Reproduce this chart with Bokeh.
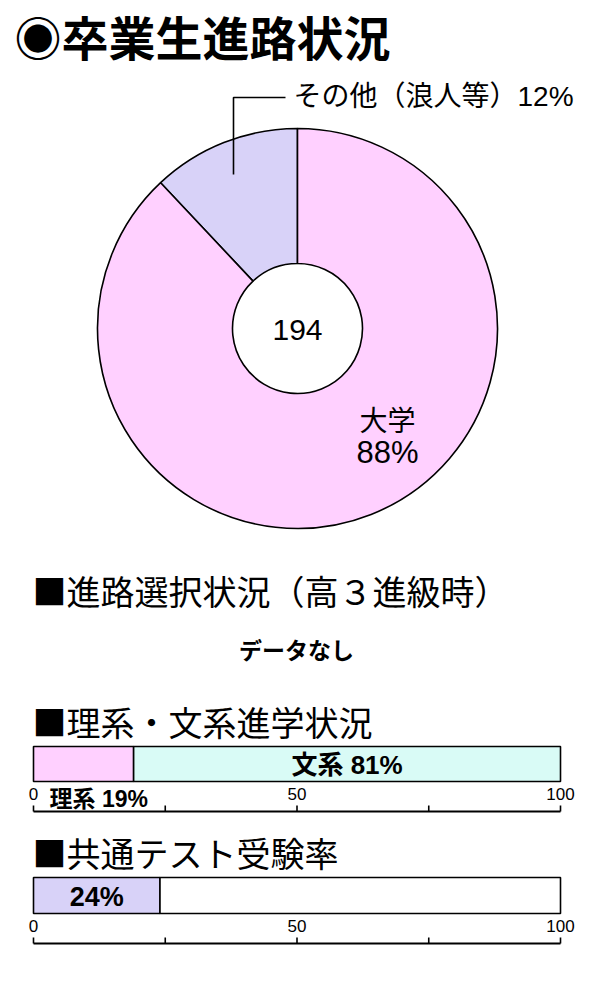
import numpy as np
from bokeh.plotting import figure
from bokeh.models import Range1d
from bokeh.core.properties import value
from bokeh.embed import file_html
from bokeh.resources import INLINE

# ---------------- data ----------------
title = "◉卒業生進路状況"
total = 194
pie_labels = ["その他（浪人等）", "大学"]
pie_shares = [12, 88]
pie_colors = ["#D8D2F8", "#FFD0FF"]

section2_title = "■進路選択状況（高３進級時）"
section2_note = "データなし"

section3_title = "■理系・文系進学状況"
stream_labels = ["理系", "文系"]
stream_shares = [19, 81]
stream_colors = ["#FFD0FF", "#D9FBF6"]

section4_title = "■共通テスト受験率"
test_shares = [24, 76]
test_colors = ["#D8D2F8", "#FFFFFF"]

ticks = [0, 25, 50, 75, 100]
tick_labels = ["0", "", "50", "", "100"]

# ---------------- figure ----------------
JP = "'Noto Sans CJK JP', sans-serif"
NUM = "'Liberation Sans', 'Noto Sans CJK JP', sans-serif"

W, H = 584, 984
p = figure(width=W, height=H, x_range=Range1d(0, W), y_range=Range1d(1000 - H, 1000),
           output_backend="svg", toolbar_location=None, min_border=0,
           x_axis_location=None, y_axis_location=None)
p.outline_line_color = None
p.grid.visible = False
p.background_fill_color = "white"
p.border_fill_color = "white"

# percentage scale for the bar sections: 0 -> x 33, 100 -> x 560
px_per = (560 - 33) / 100.0
p.extra_x_ranges = {"pct": Range1d(-33 / px_per, 100 + (W - 560) / px_per)}


def Y(yi):
    return 1000 - yi


def txt(x, y, s, size, bold=False, align="left", font=JP, rng="default", xoff=0):
    p.text(x=[x], y=[Y(y)], text=[s], text_font=value(font), text_font_size=f"{size}px",
           text_font_style="bold" if bold else "normal", text_align=align,
           text_baseline="middle", text_color="black", x_range_name=rng, x_offset=xoff)


# title
txt(14, 35, title, 47, bold=True)

# ---------------- donut ----------------
cx, cy = 297, 328
shares = np.array(pie_shares, dtype=float)
frac = shares / shares.sum()
ends = np.pi / 2 + np.cumsum(frac) * 2 * np.pi
starts = ends - frac * 2 * np.pi
p.annular_wedge(x=[cx] * len(shares), y=[Y(cy)] * len(shares), inner_radius=65, outer_radius=200,
                start_angle=starts, end_angle=ends, direction="anticlock",
                fill_color=pie_colors, line_color="black", line_width=1.6)

txt(cx, 329, str(total), 30, align="center", font=NUM)
txt(387, 418, pie_labels[1], 28, align="center")
txt(387, 452, f"{pie_shares[1]}%", 31, align="center", font=NUM)

# leader line for the small slice
p.line(x=[233, 233, 285], y=[Y(174), Y(97), Y(97)], line_color="black", line_width=1.6)
txt(293, 96, f"{pie_labels[0]}{pie_shares[0]}%", 28, font=NUM)

# ---------------- section 2 ----------------
txt(32, 590, section2_title, 34)
txt(296, 648, section2_note, 23, bold=True, align="center")

# ---------------- section 3 ----------------
txt(32, 721, section3_title, 34)


def stacked_bar(vals, colors, top, bottom):
    v = np.array(vals, dtype=float)
    right = np.cumsum(v)
    left = right - v
    p.quad(left=left, right=right, top=[Y(top)] * len(v), bottom=[Y(bottom)] * len(v),
           fill_color=colors, line_color="black", line_width=1.6, x_range_name="pct")
    return left, right


def pct_axis(y_line):
    n = len(ticks)
    p.segment(x0=[ticks[0]], y0=[Y(y_line)], x1=[ticks[-1]], y1=[Y(y_line)],
              line_color="black", line_width=2, x_range_name="pct")
    p.segment(x0=ticks, y0=[Y(y_line)] * n, x1=ticks, y1=[Y(y_line - 6)] * n,
              line_color="black", line_width=1.6, x_range_name="pct")
    p.text(x=ticks, y=[Y(y_line - 18)] * n, text=tick_labels, text_font=value(NUM),
           text_font_size="17px", text_align="center", text_baseline="middle",
           text_color="black", x_range_name="pct")


l3, r3 = stacked_bar(stream_shares, stream_colors, 746, 781)
txt((l3[1] + r3[1]) / 2, 764, f"{stream_labels[1]} {stream_shares[1]}%", 26, bold=True,
    align="center", rng="pct", font=NUM)
txt(0, 798, f"{stream_labels[0]} {stream_shares[0]}%", 23, bold=True, rng="pct", xoff=16, font=NUM)
pct_axis(811)

# ---------------- section 4 ----------------
txt(32, 852, section4_title, 34)
l4, r4 = stacked_bar(test_shares, test_colors, 877, 913)
txt((l4[0] + r4[0]) / 2, 896, f"{test_shares[0]}%", 27, bold=True, align="center", rng="pct",
    font=NUM)
pct_axis(943)

open("out.html", "w").write(file_html(p, INLINE))
